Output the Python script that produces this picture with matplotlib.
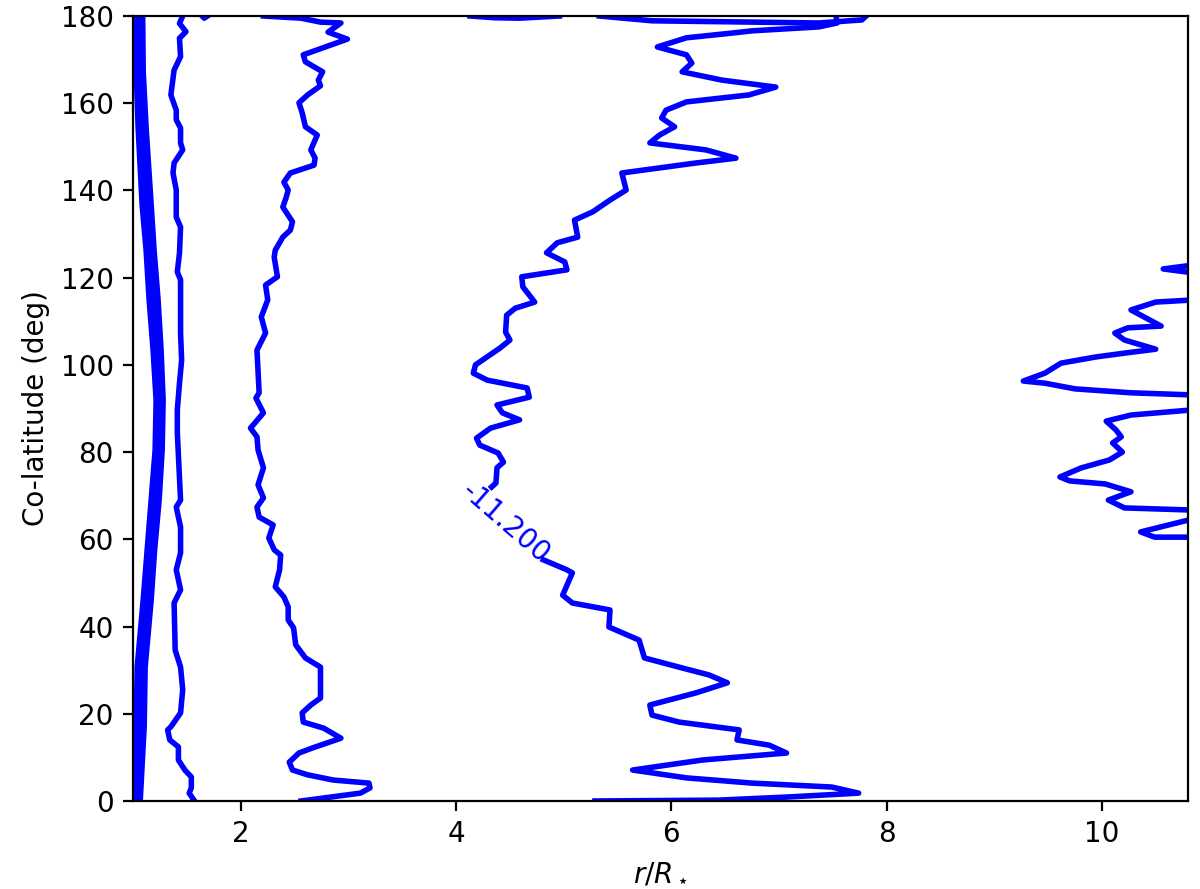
import matplotlib
matplotlib.use('Agg')
import matplotlib.pyplot as plt
import numpy as np

# contour paths, columns are (r/R*, co-latitude in deg)
theta_inner = [180, 167.2, 154.3, 136.7, 126.3, 114.9, 103.4, 91.9, 80.5, 69.0, 57.6, 46.1, 30.7, 17.0, 0]
r_inner_a = [1.019, 1.028, 1.046, 1.083, 1.120, 1.148, 1.185, 1.213, 1.204, 1.167, 1.130, 1.093, 1.037, 1.028, 1.019]
r_inner_b = [1.037, 1.046, 1.069, 1.111, 1.144, 1.176, 1.208, 1.236, 1.222, 1.190, 1.148, 1.116, 1.060, 1.046, 1.032]
r_inner_c = [1.060, 1.065, 1.093, 1.139, 1.171, 1.204, 1.236, 1.259, 1.250, 1.218, 1.176, 1.144, 1.088, 1.074, 1.051]
r_inner_d = [1.088, 1.093, 1.120, 1.167, 1.194, 1.231, 1.259, 1.278, 1.269, 1.241, 1.199, 1.167, 1.111, 1.102, 1.065]

line_c = np.array([
    [1.46, 180], [1.43, 178.3], [1.49, 176.4], [1.43, 174.9], [1.44, 170.7], [1.38, 167.6],
    [1.35, 161.9], [1.40, 158.4], [1.40, 156.2], [1.44, 154.3], [1.44, 150.9], [1.46, 149.3],
    [1.38, 146.3], [1.37, 144.0], [1.40, 140.1], [1.40, 133.9], [1.44, 131.6], [1.43, 125.7],
    [1.41, 121.3], [1.44, 119.5], [1.44, 107.3], [1.45, 101.1], [1.43, 95.8], [1.41, 89.7],
    [1.41, 84.4], [1.44, 69.0], [1.40, 67.4], [1.44, 62.8], [1.44, 56.9], [1.40, 53.0],
    [1.44, 48.4], [1.38, 45.4], [1.39, 34.6], [1.44, 30.7], [1.46, 25.5], [1.44, 20.2],
    [1.35, 17.0], [1.32, 16.3], [1.34, 14.0], [1.42, 12.4], [1.42, 9.4], [1.48, 7.1],
    [1.54, 5.5], [1.54, 3.0], [1.52, 1.8], [1.57, 0]])

blob_top = np.array([[1.64, 180], [1.66, 179.5], [1.69, 180]])

line_d = np.array([
    [2.21, 180], [2.56, 179.5], [2.74, 178.6], [2.93, 178.4], [2.81, 176.3], [2.99, 174.7],
    [2.58, 171.1], [2.60, 169.5], [2.76, 167.2], [2.72, 165.3], [2.74, 164.0], [2.62, 161.9],
    [2.54, 160.1], [2.57, 157.8], [2.60, 154.6], [2.71, 152.7], [2.65, 149.3], [2.69, 147.4],
    [2.68, 145.8], [2.46, 144.0], [2.40, 141.9], [2.44, 140.1], [2.42, 138.3], [2.39, 136.2],
    [2.48, 132.8], [2.46, 130.9], [2.39, 129.3], [2.32, 126.3], [2.31, 124.7], [2.34, 120.2],
    [2.23, 118.3], [2.25, 114.9], [2.19, 111.0], [2.23, 107.3], [2.15, 103.4], [2.17, 93.6],
    [2.14, 92.4], [2.21, 89.0], [2.09, 85.5], [2.15, 83.5], [2.16, 80.5], [2.21, 76.4],
    [2.16, 72.5], [2.21, 69.5], [2.15, 67.4], [2.17, 65.1], [2.30, 63.3], [2.26, 60.3],
    [2.31, 57.6], [2.37, 56.4], [2.36, 53.0], [2.32, 49.1], [2.40, 46.8], [2.44, 44.5],
    [2.44, 41.5], [2.49, 39.7], [2.51, 35.8], [2.60, 32.8], [2.74, 30.7], [2.74, 23.6],
    [2.65, 22.0], [2.57, 20.2], [2.58, 18.1], [2.77, 16.7], [2.93, 14.4], [2.67, 12.2],
    [2.54, 11.0], [2.45, 8.9], [2.48, 7.1], [2.62, 6.0], [2.86, 4.8], [3.19, 4.1],
    [3.20, 3.0], [3.11, 1.8], [2.56, 0]])

arc_top = np.array([[4.13, 180], [4.36, 179.6], [4.59, 179.5], [4.96, 180]])

line_e_top = np.array([[5.33, 180], [5.82, 178.9], [6.75, 178.6], [7.37, 178.4], [7.77, 179.1], [7.81, 180]])

line_e_upper = np.array([
    [7.53, 180], [7.54, 178.4], [7.37, 177.5], [6.75, 176.6], [6.57, 176.1], [6.14, 175.0],
    [5.87, 172.9], [6.14, 171.1], [6.19, 169.2], [6.10, 167.2], [6.47, 165.3], [6.97, 163.7],
    [6.72, 161.9], [6.14, 160.3], [5.95, 158.4], [5.91, 156.6], [6.03, 154.6], [5.89, 152.7],
    [5.80, 150.9], [6.32, 149.3], [6.60, 147.4], [6.23, 146.3], [5.54, 144.0], [5.58, 140.1],
    [5.43, 137.8], [5.27, 135.1], [5.10, 133.2], [5.13, 129.3], [4.94, 128.0], [4.84, 125.7],
    [5.01, 123.6], [5.03, 121.8], [4.61, 120.2], [4.62, 117.9], [4.73, 114.4], [4.55, 113.0],
    [4.47, 111.4], [4.46, 107.5], [4.50, 105.7], [4.41, 103.9], [4.18, 100.0], [4.16, 98.1],
    [4.29, 96.5], [4.66, 94.7], [4.68, 92.6], [4.38, 90.8], [4.43, 89.0], [4.59, 87.4],
    [4.32, 85.5], [4.19, 83.2], [4.22, 81.6], [4.39, 79.8], [4.44, 77.7], [4.38, 76.4],
    [4.37, 72.9], [4.33, 72.0]])

line_e_lower = np.array([
    [4.81, 55.3], [5.03, 53.0], [5.08, 52.3], [4.99, 47.2], [5.08, 45.4], [5.43, 43.8],
    [5.42, 39.9], [5.70, 36.9], [5.75, 32.8], [6.07, 30.7], [6.35, 28.9], [6.52, 27.1],
    [6.23, 24.8], [5.80, 22.0], [5.82, 19.7], [6.07, 18.1], [6.63, 16.3], [6.61, 14.0],
    [6.91, 12.8], [7.07, 11.0], [6.63, 10.1], [6.29, 9.4], [5.64, 7.1], [6.14, 5.3],
    [6.75, 4.1], [7.49, 3.2], [7.74, 1.8], [7.07, 0.9], [6.44, 0.2], [5.29, 0]])

line_f1 = np.array([[10.85, 122.9], [10.57, 122.0], [10.85, 121.1]])
line_f2 = np.array([
    [10.85, 114.9], [10.50, 114.4], [10.27, 112.6], [10.55, 108.9], [10.24, 108.5], [10.12, 107.3],
    [10.21, 105.7], [10.50, 103.6], [10.21, 102.7], [9.94, 101.8], [9.62, 100.4], [9.47, 98.1],
    [9.27, 96.3], [9.47, 95.8], [9.75, 94.5], [10.27, 93.6], [10.85, 93.1]])
line_f3 = np.array([
    [10.85, 89.7], [10.27, 88.5], [10.04, 87.1], [10.13, 85.1], [10.18, 83.5], [10.10, 82.1],
    [10.19, 80.0], [10.07, 78.2], [9.81, 76.4], [9.61, 74.3], [9.70, 73.4], [10.03, 72.7],
    [10.27, 70.9], [10.06, 69.0], [10.21, 67.2], [10.85, 66.7]])
line_f4 = np.array([[10.85, 64.7], [10.36, 61.7], [10.49, 60.5], [10.85, 60.5]])

label_text = '-11.200'
label_pos = (4.46, 63.7)

fig = plt.figure(figsize=(6, 4.445), dpi=200)
ax = fig.add_axes([0.111, 0.099, 0.879, 0.883])

color = 'blue'
lw = 2.0

for r_vals in [r_inner_a, r_inner_b, r_inner_c, r_inner_d]:
    ax.plot(r_vals, theta_inner, color=color, lw=lw)

for path in [line_c, blob_top, line_d, arc_top, line_e_top, line_e_upper, line_e_lower,
             line_f1, line_f2, line_f3, line_f4]:
    ax.plot(path[:, 0], path[:, 1], color=color, lw=lw)

ax.text(label_pos[0], label_pos[1], label_text, color=color, fontsize=10,
        rotation=-41, ha='center', va='center', rotation_mode='anchor')

ax.set_xlim(1, 10.8)
ax.set_ylim(0, 180)
ax.set_xticks([2, 4, 6, 8, 10])
ax.set_yticks(np.arange(0, 181, 20))
ax.set_xlabel(r'$r/R_\star$')
ax.set_ylabel('Co-latitude (deg)')

fig.savefig('out.png', dpi=200)
